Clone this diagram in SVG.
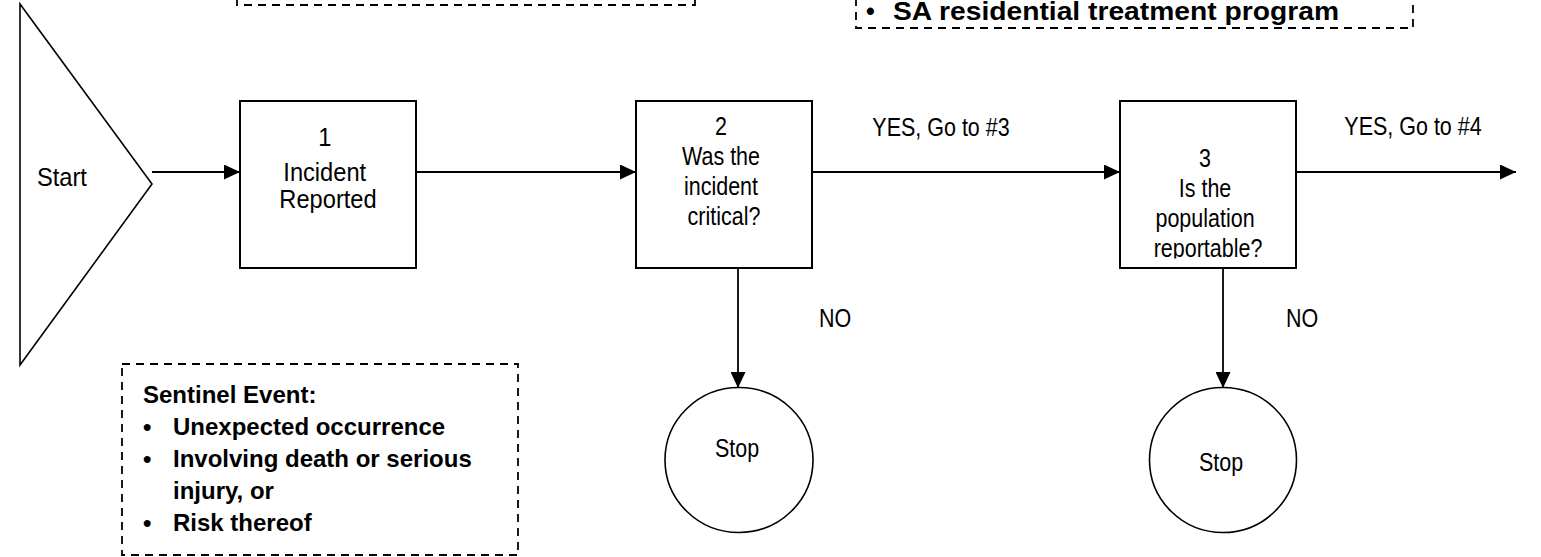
<svg xmlns="http://www.w3.org/2000/svg" width="1541" height="557" viewBox="0 0 1541 557">
<style>
.box{fill:#fff;stroke:#000;stroke-width:2}
.shape{fill:#fff;stroke:#000;stroke-width:1.6}
.conn{fill:none;stroke:#000;stroke-width:1.8;marker-end:url(#arr)}
.note{fill:none;stroke:#000;stroke-width:1.8;stroke-dasharray:8 6}
.t{font-family:'Liberation Sans',Arial,sans-serif;font-size:25px;fill:#000}
.t2{font-family:'Liberation Sans',Arial,sans-serif;font-size:26px;fill:#000}
.b{font-family:'Liberation Sans',Arial,sans-serif;font-size:24px;font-weight:bold;fill:#000}
.b2{font-family:'Liberation Sans',Arial,sans-serif;font-size:25px;font-weight:bold;fill:#000}
</style>
<defs>
<marker id="arr" markerUnits="userSpaceOnUse" markerWidth="16" markerHeight="15" refX="16" refY="7.5" orient="auto">
<path d="M0,0 L16,7.5 L0,15 z" fill="#000"/>
</marker>
<clipPath id="clip3"><rect x="1120" y="101" width="176" height="157.5"/></clipPath>
</defs>
<rect width="1541" height="557" fill="#fff"/>

<g id="note-top-left">
<rect class="note" x="237" y="-60" width="458" height="65"/>
</g>

<g id="note-top-right">
<rect class="note" x="856" y="-40" width="557" height="68"/>
<text class="b2" x="866" y="20">•</text>
<text class="b2" x="893" y="20" textLength="446" lengthAdjust="spacingAndGlyphs">SA residential treatment program</text>
</g>

<g id="connectors">
<line class="conn" x1="152" y1="172" x2="240" y2="172"/>
<line class="conn" x1="416" y1="172" x2="636" y2="172"/>
<line class="conn" x1="812" y1="172" x2="1120" y2="172"/>
<line class="conn" x1="1296" y1="172" x2="1516" y2="172"/>
<line class="conn" x1="738" y1="268" x2="738" y2="388"/>
<line class="conn" x1="1223" y1="268" x2="1223" y2="388"/>
<text class="t" transform="matrix(0.86 0 0 1 941 136)" text-anchor="middle">YES, Go to #3</text>
<text class="t" transform="matrix(0.86 0 0 1 1413 135)" text-anchor="middle">YES, Go to #4</text>
<text class="t" transform="matrix(0.86 0 0 1 819 327)">NO</text>
<text class="t" transform="matrix(0.86 0 0 1 1286 327)">NO</text>
</g>

<g id="start">
<path class="shape" d="M20,4 L152,184 L20,365 Z"/>
<text class="t2" transform="matrix(0.91 0 0 1 37 186)">Start</text>
</g>

<g id="node1">
<rect class="box" x="240" y="101" width="176" height="167"/>
<text class="t2" transform="matrix(0.91 0 0 1 328 0)" text-anchor="middle">
<tspan x="0" y="146">1</tspan>
<tspan x="0" y="181">Incident</tspan>
<tspan x="0" y="208">Reported</tspan>
</text>
</g>

<g id="node2">
<rect class="box" x="636" y="101" width="176" height="167"/>
<text class="t" transform="matrix(0.86 0 0 1 724 0)" text-anchor="middle">
<tspan x="0" y="135">2</tspan>
<tspan x="0" y="165">Was the</tspan>
<tspan x="0" y="195">incident</tspan>
<tspan x="0" y="225">critical?</tspan>
</text>
</g>

<g id="node3">
<rect class="box" x="1120" y="101" width="176" height="167"/>
<g clip-path="url(#clip3)">
<text class="t" transform="matrix(0.86 0 0 1 1208 0)" text-anchor="middle">
<tspan x="0" y="167">3</tspan>
<tspan x="0" y="197">Is the</tspan>
<tspan x="0" y="227">population</tspan>
<tspan x="0" y="257">reportable?</tspan>
</text>
</g>
</g>

<g id="stop1">
<ellipse class="shape" cx="739" cy="460" rx="74" ry="72.5"/>
<text class="t" transform="matrix(0.86 0 0 1 737 457)" text-anchor="middle">Stop</text>
</g>

<g id="stop2">
<ellipse class="shape" cx="1223" cy="460" rx="73.5" ry="72.5"/>
<text class="t" transform="matrix(0.86 0 0 1 1221 471)" text-anchor="middle">Stop</text>
</g>

<g id="note-sentinel">
<rect class="note" x="122" y="364" width="396" height="191"/>
<text class="b" x="143" y="403">Sentinel Event:</text>
<text class="b" x="143" y="435">•</text>
<text class="b" x="173" y="435">Unexpected occurrence</text>
<text class="b" x="143" y="467">•</text>
<text class="b" x="173" y="467">Involving death or serious</text>
<text class="b" x="173" y="499">injury, or</text>
<text class="b" x="143" y="531">•</text>
<text class="b" x="173" y="531">Risk thereof</text>
</g>
</svg>
